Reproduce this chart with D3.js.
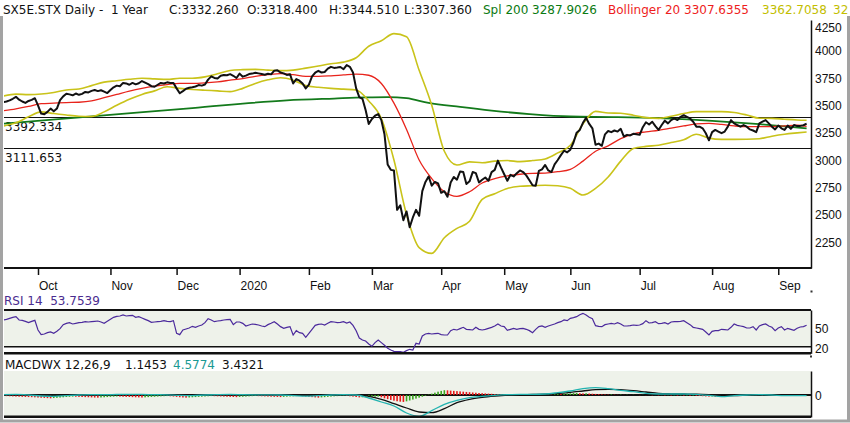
<!DOCTYPE html>
<html>
<head>
<meta charset="utf-8">
<script src="https://cdn.jsdelivr.net/npm/d3@7"></script>
<style>
body { margin: 0; background: #fff; }
svg { display: block; font-family: "DejaVu Sans", sans-serif; }
text { white-space: pre; }
</style>
</head>
<body>
<script>

// month tick labels and trading days per month (first = part of Sep 2019, last = part of Sep 2020)
var monthLabels = ["Oct", "Nov", "Dec", "2020", "Feb", "Mar", "Apr", "May", "Jun", "Jul", "Aug", "Sep"];
var monthDays = [11, 23, 21, 20, 22, 20, 22, 20, 21, 22, 23, 21, 10];

var yTicks = [4250, 4000, 3750, 3500, 3250, 3000, 2750, 2500, 2250];
var levels = [3392.334, 3111.653];
var rsiTicks = [50, 20];

// daily closes
var closes = [
  3530, 3535, 3545, 3560, 3578, 3552, 3535, 3522, 3540, 3550, 3565,
  3500, 3425, 3418, 3440, 3470, 3445, 3470, 3548, 3582, 3605, 3600, 3592, 3608, 3596, 3605, 3622, 3618, 3632, 3640, 3630, 3638, 3625, 3612,
  3640, 3665, 3680, 3675, 3705, 3700, 3688, 3705, 3692, 3702, 3722, 3708, 3694, 3675, 3670, 3688, 3705, 3700, 3710, 3705, 3704,
  3655, 3610, 3630, 3652, 3660, 3665, 3672, 3685, 3680, 3690, 3735, 3765, 3750, 3745, 3770, 3778, 3775, 3785, 3770, 3750,
  3790, 3762, 3772, 3786, 3790, 3798, 3792, 3786, 3780, 3788, 3783, 3817, 3820, 3800, 3792, 3778, 3785, 3700, 3740, 3725, 3700, 3655,
  3690, 3765, 3798, 3815, 3800, 3805, 3835, 3852, 3842, 3845, 3850, 3830, 3868, 3852, 3800, 3655, 3575, 3560, 3458, 3330,
  3375, 3405, 3420, 3365, 3235, 2960, 2910, 2905, 2545, 2586, 2450, 2530, 2385, 2475, 2545, 2490, 2716, 2800, 2850, 2765, 2800, 2786,
  2700, 2715, 2665, 2795, 2845, 2820, 2895, 2890, 2780, 2805, 2890, 2880, 2795, 2820, 2840, 2810, 2890, 2910, 2995, 2930,
  2870, 2810, 2865, 2850, 2880, 2905, 2890, 2860, 2815, 2770, 2765, 2900, 2915, 2955, 2905, 2890, 2960, 3000, 3045, 3085, 3070,
  3095, 3160, 3250, 3275, 3340, 3385, 3330, 3290, 3140, 3150, 3130, 3235, 3265, 3255, 3270, 3260, 3285, 3215, 3230, 3225, 3240, 3235,
  3230, 3300, 3345, 3325, 3350, 3310, 3275, 3320, 3360, 3335, 3365, 3380, 3365, 3395, 3410, 3395, 3380, 3350, 3305, 3305, 3290, 3245, 3180,
  3255, 3275, 3260, 3245, 3260, 3305, 3365, 3335, 3320, 3305, 3320, 3305, 3280, 3270, 3255, 3335, 3350, 3365, 3335, 3305, 3280,
  3315, 3290, 3275, 3315, 3285, 3320, 3310, 3312, 3318, 3332
];

// smooth series, read every 4th trading day
var bandIdx = d3.range(0, 256, 4).concat([255]);
var bollUpper = [
  3585, 3602, 3598, 3603, 3618, 3640, 3650, 3680, 3712, 3725,
  3738, 3747, 3742, 3737, 3747, 3747, 3760, 3788, 3818, 3826,
  3829, 3822, 3817, 3822, 3840, 3860, 3880, 3895, 3935, 4040,
  4090, 4155, 4127, 3820, 3500, 3080, 2954, 2983, 2975, 2990,
  2995, 2985, 2995, 3010, 3065, 3135, 3330, 3445, 3430, 3427,
  3410, 3388, 3381, 3400, 3425, 3442, 3442, 3442, 3435, 3412,
  3382, 3381, 3373, 3366, 3363
];
var bollMid = [
  3450, 3468, 3490, 3515, 3520, 3525, 3528, 3540, 3570, 3600,
  3630, 3655, 3675, 3690, 3700, 3700, 3705, 3715, 3730, 3745,
  3765, 3780, 3790, 3780, 3765, 3765, 3770, 3778, 3785, 3775,
  3700, 3520, 3280, 3000, 2830, 2710, 2668, 2710, 2790, 2830,
  2855, 2870, 2878, 2880, 2893, 2915, 2990, 3080, 3130, 3195,
  3240, 3258, 3272, 3292, 3312, 3330, 3335, 3325, 3312, 3305,
  3305, 3305, 3312, 3318, 3308
];
var bollLower = [
  3311, 3340, 3395, 3440, 3425, 3411, 3400, 3398, 3440, 3500,
  3555, 3600, 3632, 3670, 3655, 3645, 3638, 3632, 3625, 3655,
  3700, 3733, 3752, 3730, 3680, 3665, 3655, 3648, 3640, 3540,
  3380, 3000, 2500, 2200, 2147, 2290, 2375, 2440, 2640, 2692,
  2740, 2760, 2765, 2770, 2765, 2741, 2680, 2740, 2845, 2990,
  3105, 3125, 3135, 3160, 3185, 3235, 3200, 3189, 3189, 3190,
  3195, 3218, 3236, 3248, 3256
];

var smaIdx = [0, 30, 60, 90, 105, 115, 122, 128, 135, 145, 155, 167, 180, 195, 210, 225, 240, 255];
var sma200 = [3332, 3403, 3475, 3545, 3562, 3572, 3575, 3565, 3522, 3485, 3452, 3420, 3398, 3393, 3380, 3358, 3328, 3290];

var rsi = [
  60, 61, 62.5, 64, 65, 60, 59.5, 58, 56, 58,
  59.5, 45, 38, 39, 41, 42, 40, 43, 47, 53,
  55, 56, 54, 55, 56, 56.5, 57.5, 57, 57.5, 58,
  58.5, 57, 55, 58, 61, 64, 65.5, 66, 67.5, 66,
  66.5, 67, 64, 65, 63, 61, 59, 56.5, 57, 57.5,
  58, 59, 58, 57.5, 59, 40, 38, 45, 46.5, 48,
  50.5, 49, 51, 52.5, 56, 62, 60, 57.5, 58.5, 59,
  60, 60.5, 61, 53, 57, 57, 55, 51, 52.5, 54,
  53.5, 52.5, 51, 50, 53, 55, 57.5, 54, 50, 47.5,
  49, 50, 37.5, 44, 41, 40, 34, 40, 46, 52,
  53.5, 54, 52.5, 55, 57.5, 57, 56, 56.5, 57.5, 55.5,
  57, 52, 44, 33, 30, 28.5, 24, 20.5, 26, 30,
  26, 22, 17.5, 15, 13, 12.5, 12.5, 11.5, 14, 16,
  15, 25, 24, 36, 39, 40, 39, 39.5, 40, 38,
  37.5, 37.5, 44, 46, 45, 47, 49, 46, 45.5, 45,
  49, 46, 45, 46, 47.5, 49, 51, 54, 51, 50,
  44.5, 46, 47.5, 46, 47, 47.5, 46, 44, 41, 46,
  50, 51, 49, 51, 52.5, 54, 56, 57.5, 60, 59,
  62.5, 63.5, 65, 68, 70, 67.5, 64, 62, 51.5, 50.5,
  50, 53, 54, 55, 54, 56, 54, 51, 51, 51.5,
  52.5, 52, 52.5, 54.5, 59, 55.5, 56, 57.5, 54.5, 55,
  56, 54, 57, 57.5, 57.5, 58, 59, 56, 53, 49,
  48, 47, 46, 42, 37.5, 43, 44, 44, 46, 45.5,
  45, 49, 54, 52, 51, 50, 48, 48, 50, 45,
  51, 53, 54, 51, 49, 44, 48, 50, 45, 47.5,
  46, 44.5, 47.5, 49.5, 50, 52
];

var macdFast = [
  5, 8, 0, -15, -20, -10, 0, 5, 5, 8,
  10, 8, 5, 3, -5, -8, 0, 5, 8, 5,
  3, 2, 0, -8, -18, -10, 0, 5, 0, -45,
  -105, -165, -270, -320, -235, -140, -80, -40, -20, -5,
  5, 10, 10, 15, 35, 60, 95, 110, 95, 70,
  50, 25, 15, 15, 15, 10, -5, -25, -10, 0,
  5, 0, -10, -10, -8
];
var macdSignal = [
  3, 3, 2, 0, -3, -4, -3, 0, 2, 4,
  5, 6, 5, 4, 2, 0, 0, 2, 4, 4,
  4, 3, 2, 0, -4, -6, -3, 2, 4, -20,
  -65, -130, -195, -255, -265, -205, -115, -65, -35, -15,
  0, 5, 8, 12, 25, 40, 60, 80, 85, 80,
  65, 45, 25, 18, 15, 12, 5, -5, -10, -5,
  0, 0, -3, -5, -6
];
var macdHist = [
  -15, -17, -19, -21, -23, -25, -27, -29, -31, -33, -35,
  -38, -41, -44, -47, -50,
  -46, -42, -38, -34, -30, -27, -24,
  -26, -28, -30, -32, -34, -36, -38, -40,
  -37, -34, -31, -28, -25, -22,
  -24, -26, -28, -30, -32, -34, -36, -38,
  -35, -32, -29, -26, -23, -20, -18, -16,
  -19, -23, -28, -33, -37, -40,
  -37, -34, -31, -28, -25, -22, -19, -16,
  -18, -20, -22, -24, -26, -28, -30, -32,
  -29, -26, -23, -20, -17, -15,
  -17, -19, -21, -23, -25, -27, -29, -31,
  -28, -25, -22, -19, -16, -14,
  -18, -23, -28, -32, -36, -40,
  -36, -32, -28, -24, -20, -17, -14, -12,
  -15, -19, -24, -30, -36,
  -34, -32, -30, -28, -26, -24,
  -35, -50, -62, -74, -85, -94, -100, -104,
  -95, -82, -68, -54, -40, -26, -12,
  5, 20, 35, 50, 62, 72,
  70, 66, 62, 58, 54, 50, 46, 42, 38, 34, 30, 27, 24, 21, 18, 15, 12, 10,
  12, 8, 11, 7, 10, 6, 9, 5, 8, 4, 7, 3,
  6, 9, 12, 10, 14, 17, 15, 19, 22, 25,
  28, 30, 27, 24, 26, 22, 19, 16, 13, 10,
  8, 6, 9, 5, 3, 6, 2, 4, 1, 3,
  0, -3, 2, -2, 1, -4, -1, -5, -2, -6,
  -3, -7, -4, -8, -5, -9, -6, -10, -7, -12,
  -15, -18, -21, -24, -22, -26, -29, -25, -21, -17,
  -13, -10, -12, -8, -10, -6, -8, -4, -6, -2,
  -5, -1, -4, -7, -3, -6, -9, -5, -8, -11, -7, -10, -6, -9, -5
];

var headerParts = [
  ["SX5E.STX Daily -  1 Year", "#111"],
  ["C:3332.260", "#111"],
  ["O:3318.400", "#111"],
  ["H:3344.510", "#111"],
  ["L:3307.360", "#111"],
  ["Spl 200 3287.9026", "#0b7a12"],
  ["Bollinger 20 3307.6355", "#ee1d1d"],
  ["3362.7058", "#c2be00"],
  ["32", "#c2be00"]
];
var headerX = [3, 169, 247, 329, 404, 483, 608, 762, 833];

var width = 850, height = 423;
var left = 4, right = 811;

var svg = d3.select("body").append("svg")
  .attr("width", width)
  .attr("height", height);

var x = d3.scaleLinear().domain([0, closes.length - 1]).range([3.35, 806.6]);
var y = d3.scaleLinear().domain([2013, 4280]).range([268, 20]);
var yRsi = d3.scaleLinear().domain([10, 75]).range([353.3, 310]);
var yMacd = d3.scaleLinear().domain([-330, 375]).range([417, 370]);

var tickIdx = [];
var acc = 0;
for (var k = 0; k < monthLabels.length; k++) {
  acc += monthDays[k];
  tickIdx.push(acc);
}

var defs = svg.append("defs");
defs.append("clipPath").attr("id", "cMain").append("rect")
  .attr("x", left).attr("y", 20).attr("width", right - left).attr("height", 248);
defs.append("clipPath").attr("id", "cRsi").append("rect")
  .attr("x", left).attr("y", 309).attr("width", right - left).attr("height", 46);
defs.append("clipPath").attr("id", "cMacd").append("rect")
  .attr("x", left).attr("y", 370).attr("width", right - left).attr("height", 48);

var lineOf = function(idx, vals, scale, curve) {
  return d3.line()
    .x(function(d, i) { return x(idx[i]); })
    .y(function(d) { return scale(d); })
    .curve(curve || d3.curveLinear)(vals);
};
var dayIdx = d3.range(closes.length);

// header
var head = svg.append("text").attr("y", 14).style("font-size", "12px");
headerParts.forEach(function(p, i) {
  head.append("tspan").attr("x", headerX[i]).attr("fill", p[1]).text(p[0]);
});

// outer frame
svg.append("path")
  .attr("d", "M1.5,16 V421 H848.5 V16")
  .attr("fill", "none").attr("stroke", "#a3a3a3").attr("stroke-width", 3);

// ---- main panel
var main = svg.append("g");
levels.forEach(function(v) {
  main.append("line")
    .attr("x1", left).attr("x2", right)
    .attr("y1", Math.round(y(v)) + 0.5).attr("y2", Math.round(y(v)) + 0.5)
    .attr("stroke", "#111").attr("stroke-width", 1);
  main.append("text")
    .attr("x", 5).attr("y", y(v) + 14)
    .style("font-size", "12px").attr("fill", "#111")
    .text(v.toFixed(3));
});

var plot = main.append("g").attr("clip-path", "url(#cMain)");
plot.append("path")
  .attr("d", lineOf(smaIdx, sma200, y, d3.curveMonotoneX))
  .attr("fill", "none").attr("stroke", "#137a1b").attr("stroke-width", 1.8);
plot.append("path")
  .attr("d", lineOf(bandIdx, bollUpper, y, d3.curveMonotoneX))
  .attr("fill", "none").attr("stroke", "#c9c31a").attr("stroke-width", 1.6);
plot.append("path")
  .attr("d", lineOf(bandIdx, bollLower, y, d3.curveMonotoneX))
  .attr("fill", "none").attr("stroke", "#c9c31a").attr("stroke-width", 1.6);
plot.append("path")
  .attr("d", lineOf(bandIdx, bollMid, y, d3.curveMonotoneX))
  .attr("fill", "none").attr("stroke", "#e8241c").attr("stroke-width", 1.3);
plot.append("path")
  .attr("d", lineOf(dayIdx, closes, y))
  .attr("fill", "none").attr("stroke", "#111").attr("stroke-width", 2)
  .attr("stroke-linejoin", "round");

var yAxis = svg.append("g")
  .attr("transform", "translate(" + right + ",0)")
  .call(d3.axisRight(y).tickValues(yTicks).tickFormat(d3.format("d"))
    .tickSize(0).tickSizeOuter(0).tickPadding(4));
yAxis.select(".domain").attr("stroke", "#111").attr("stroke-width", 1.5);
yAxis.selectAll("text")
  .attr("font-family", null).attr("font-size", null)
  .style("font-size", "12px").attr("fill", "#111")
  .attr("dy", function(d) { return (Math.max(y(d), 27) - y(d) + 4.2) + "px"; });

// x axis
svg.append("line")
  .attr("x1", left).attr("x2", right + 0.75).attr("y1", 268).attr("y2", 268)
  .attr("stroke", "#111").attr("stroke-width", 2);
var xAxis = svg.append("g")
  .attr("transform", "translate(0,268)")
  .call(d3.axisBottom(x).tickValues(tickIdx)
    .tickFormat(function(d, i) { return monthLabels[i]; })
    .tickSize(7).tickPadding(6));
xAxis.select(".domain").remove();
xAxis.selectAll("line").attr("stroke", "#111").attr("stroke-width", 1.5);
xAxis.selectAll("text")
  .attr("font-family", null).attr("font-size", null)
  .style("font-size", "12px").attr("fill", "#111")
  .attr("text-anchor", "start").attr("x", 0.5);

svg.append("rect").attr("x", 810.5).attr("y", 290.5).attr("width", 2).attr("height", 2).attr("fill", "#333");

// ---- RSI panel
svg.append("text").attr("x", 4).attr("y", 305)
  .style("font-size", "12px").attr("fill", "#4a2c8f")
  .text("RSI 14  53.7539");
svg.append("rect")
  .attr("x", left).attr("y", 311).attr("width", right - left).attr("height", yRsi(20) - 311)
  .attr("fill", "#eef2ea");
svg.append("line")
  .attr("x1", left).attr("x2", right).attr("y1", yRsi(20)).attr("y2", yRsi(20))
  .attr("stroke", "#111").attr("stroke-width", 1.5);
svg.append("g").attr("clip-path", "url(#cRsi)").append("path")
  .attr("d", lineOf(dayIdx, rsi, yRsi))
  .attr("fill", "none").attr("stroke", "#4b2a9c").attr("stroke-width", 1.2);
svg.append("line")
  .attr("x1", left).attr("x2", right).attr("y1", 310).attr("y2", 310)
  .attr("stroke", "#111").attr("stroke-width", 2.2);
svg.append("line")
  .attr("x1", left).attr("x2", right).attr("y1", 353.3).attr("y2", 353.3)
  .attr("stroke", "#111").attr("stroke-width", 2.5);
var rAxis = svg.append("g")
  .attr("transform", "translate(" + right + ",0)")
  .call(d3.axisRight(yRsi).tickValues(rsiTicks).tickSize(0).tickSizeOuter(0).tickPadding(4));
rAxis.select(".domain").attr("stroke", "#111").attr("stroke-width", 1.5);
rAxis.selectAll("text")
  .attr("font-family", null).attr("font-size", null)
  .style("font-size", "12px").attr("fill", "#111").attr("dy", "5.6px");

svg.append("rect").attr("x", 810).attr("y", 355.5).attr("width", 2).attr("height", 2).attr("fill", "#333");

// ---- MACD panel
var mLab = svg.append("text").attr("y", 368.5).style("font-size", "12px");
mLab.append("tspan").attr("x", 5).attr("fill", "#111").text("MACDWX 12,26,9");
mLab.append("tspan").attr("x", 125).attr("fill", "#111").text("1.1453");
mLab.append("tspan").attr("x", 173).attr("fill", "#1b9a93").text("4.5774");
mLab.append("tspan").attr("x", 222).attr("fill", "#111").text("3.4321");

svg.append("rect")
  .attr("x", left).attr("y", 371).attr("width", right - left).attr("height", 45)
  .attr("fill", "#eef2ea");

var mg = svg.append("g").attr("clip-path", "url(#cMacd)");
mg.append("line")
  .attr("x1", left).attr("x2", right).attr("y1", yMacd(0)).attr("y2", yMacd(0))
  .attr("stroke", "#111").attr("stroke-width", 2);
mg.selectAll("rect.bar")
  .data(macdHist)
  .enter().append("rect")
  .attr("class", "bar")
  .attr("x", function(d, i) { return x(i) - 0.8; })
  .attr("width", 1.6)
  .attr("y", function(d) { return Math.min(yMacd(d), yMacd(0)); })
  .attr("height", function(d) { return Math.abs(yMacd(d) - yMacd(0)); })
  .attr("fill", function(d, i) {
    var prev = i > 0 ? macdHist[i - 1] : d;
    return d >= prev ? "#3aa61f" : "#e81818";
  });
mg.append("path")
  .attr("d", lineOf(bandIdx, macdSignal, yMacd, d3.curveMonotoneX))
  .attr("fill", "none").attr("stroke", "#111").attr("stroke-width", 1.3);
mg.append("path")
  .attr("d", lineOf(bandIdx, macdFast, yMacd, d3.curveMonotoneX))
  .attr("fill", "none").attr("stroke", "#22b3b0").attr("stroke-width", 1.3);

svg.append("line")
  .attr("x1", left).attr("x2", right).attr("y1", 416.7).attr("y2", 416.7)
  .attr("stroke", "#111").attr("stroke-width", 2.5);
var mAxis = svg.append("g")
  .attr("transform", "translate(" + right + ",0)")
  .call(d3.axisRight(d3.scaleLinear().domain(yMacd.domain()).range([417, 371]))
    .tickValues([0]).tickFormat(d3.format("d")).tickSize(0).tickSizeOuter(0).tickPadding(4));
mAxis.select(".domain").attr("stroke", "#111").attr("stroke-width", 1.5);
mAxis.selectAll("text")
  .attr("font-family", null).attr("font-size", null)
  .style("font-size", "12px").attr("fill", "#111").attr("dy", "4.2px");

</script>
</body>
</html>
